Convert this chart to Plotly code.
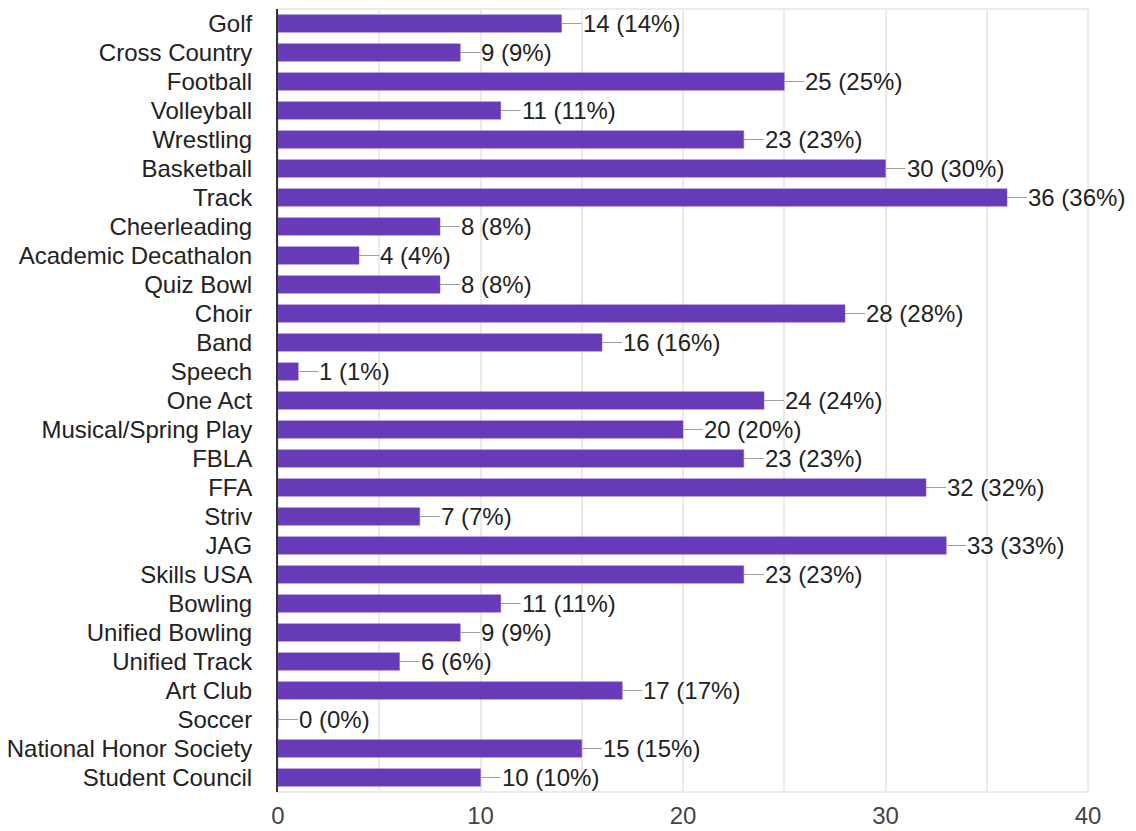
import plotly.graph_objects as go

# Activity sign-ups (100 respondents, multiple answers allowed)
activities = [
    "Golf", "Cross Country", "Football", "Volleyball", "Wrestling", "Basketball",
    "Track", "Cheerleading", "Academic Decathalon", "Quiz Bowl", "Choir", "Band",
    "Speech", "One Act", "Musical/Spring Play", "FBLA", "FFA", "Striv", "JAG",
    "Skills USA", "Bowling", "Unified Bowling", "Unified Track", "Art Club",
    "Soccer", "National Honor Society", "Student Council",
]
counts = [14, 9, 25, 11, 23, 30, 36, 8, 4, 8, 28, 16, 1, 24, 20, 23, 32, 7, 33,
          23, 11, 9, 6, 17, 0, 15, 10]
respondents = 100
x_ticks = [0, 10, 20, 30, 40]

BAR = "#673ab7"
TEXT = "#222222"
GRID = "#ebebeb"
FONT = "Liberation Sans, Arial, sans-serif"
SIZE = 24

fig = go.Figure(
    go.Bar(
        x=counts,
        y=activities,
        orientation="h",
        marker=dict(color=BAR, line=dict(color="#7e57c2", width=0.5)),
        width=0.6,
        hoverinfo="skip",
    )
)

# value labels with short leader lines
for name, c in zip(activities, counts):
    pct = round(c * 100 / respondents)
    fig.add_annotation(
        x=c, y=name, xref="x", yref="y",
        text=f"{c} ({pct}%)",
        showarrow=True, arrowhead=0, arrowwidth=1, arrowcolor="#9e9e9e",
        ax=20, ay=0, standoff=0, xanchor="left", borderpad=0,
        font=dict(family=FONT, size=SIZE, color=TEXT),
    )

# light frame around the plotting area
fig.add_shape(type="rect", xref="paper", yref="paper", x0=0, x1=1, y0=0, y1=1,
              line=dict(color=GRID, width=2), layer="below")

fig.update_layout(
    width=1136, height=831,
    margin=dict(l=278, r=48, t=9, b=39),
    paper_bgcolor="white", plot_bgcolor="white",
    showlegend=False,
    font=dict(family=FONT, size=SIZE, color=TEXT),
    xaxis=dict(
        range=[0, 40], tickvals=x_ticks, showgrid=True, gridcolor=GRID, gridwidth=1.5,
        minor=dict(dtick=5, showgrid=True, gridcolor=GRID, gridwidth=1.5),
        zeroline=False, ticks="outside", ticklen=2, tickcolor="rgba(0,0,0,0)",
        tickfont=dict(family=FONT, size=SIZE, color="#444444"),
        automargin=False,
    ),
    yaxis=dict(
        autorange="reversed", showgrid=False, zeroline=False,
        tickmode="array", tickvals=activities, ticktext=activities,
        showline=True, linecolor="#333333", linewidth=2,
        ticks="outside", ticklen=19, tickcolor="rgba(0,0,0,0)",
        tickfont=dict(family=FONT, size=SIZE, color=TEXT),
        automargin=False,
    ),
)

fig.write_html("out.html")
